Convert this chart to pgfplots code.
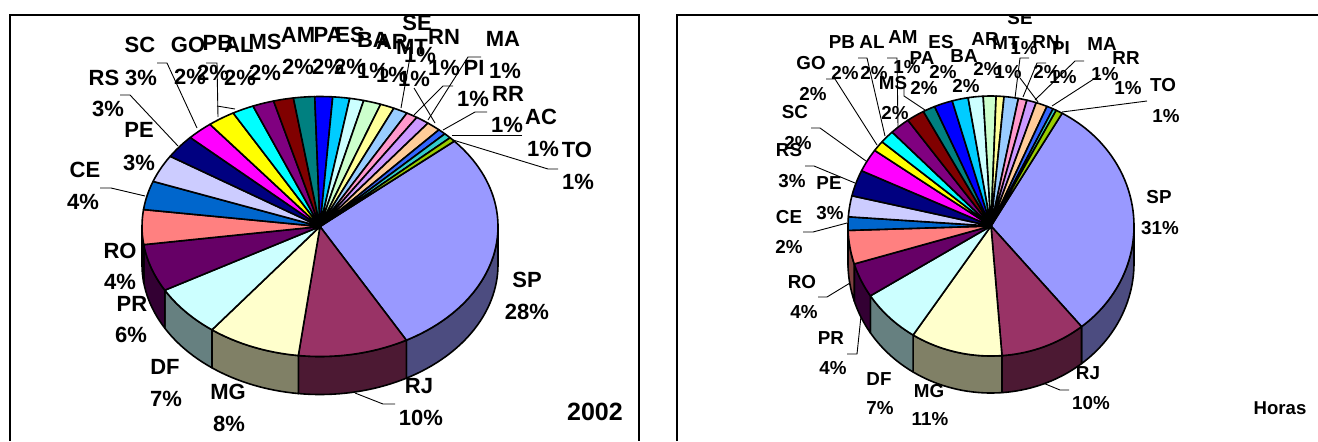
\documentclass[border=0pt]{standalone}
\usepackage{fontspec}
\setmainfont{Liberation Sans}
\usepackage{pgfplots}
\pgfplotsset{compat=1.18}

% Excel palette, one colour per state
\definecolor{cSP}{HTML}{9999FF}\definecolor{cRJ}{HTML}{993366}\definecolor{cMG}{HTML}{FFFFCC}
\definecolor{cDF}{HTML}{CCFFFF}\definecolor{cPR}{HTML}{660066}\definecolor{cRO}{HTML}{FF8080}
\definecolor{cCE}{HTML}{0066CC}\definecolor{cPE}{HTML}{CCCCFF}\definecolor{cRS}{HTML}{000080}
\definecolor{cSC}{HTML}{FF00FF}\definecolor{cGO}{HTML}{FFFF00}\definecolor{cPB}{HTML}{00FFFF}
\definecolor{cAL}{HTML}{800080}\definecolor{cMS}{HTML}{800000}\definecolor{cAM}{HTML}{008080}
\definecolor{cPA}{HTML}{0000FF}\definecolor{cES}{HTML}{00CCFF}\definecolor{cBA}{HTML}{CCFFFF}
\definecolor{cAR}{HTML}{CCFFCC}\definecolor{cMT}{HTML}{FFFF99}\definecolor{cSE}{HTML}{99CCFF}
\definecolor{cRN}{HTML}{FF99CC}\definecolor{cPI}{HTML}{CC99FF}\definecolor{cMA}{HTML}{FFCC99}
\definecolor{cRR}{HTML}{3366FF}\definecolor{cAC}{HTML}{33CCCC}\definecolor{cTO}{HTML}{99CC00}

% slice shares (percent), clockwise from the start angle
\def\sharesA{cSP/28.33,cRJ/10.00,cMG/8.44,cDF/6.47,cPR/5.92,cRO/4.31,cCE/3.56,cPE/3.44,cRS/2.92,cSC/2.39,cGO/2.50,cPB/1.97,cAL/1.94,cMS/1.81,cAM/1.92,cPA/1.61,cES/1.53,cBA/1.28,cAR/1.58,cMT/1.28,cSE/1.31,cRN/1.03,cPI/1.22,cMA/1.28,cRR/0.72,cAC/0.67,cTO/0.56}
\def\sharesB{cSP/30.81,cRJ/9.69,cMG/10.39,cDF/6.81,cPR/4.31,cRO/4.17,cCE/1.67,cPE/2.61,cRS/3.25,cSC/2.89,cGO/1.33,cPB/1.64,cAL/2.28,cMS/2.03,cAM/1.39,cPA/2.08,cES/1.81,cBA/1.69,cAR/1.44,cMT/0.89,cSE/1.61,cRN/0.97,cPI/1.08,cMA/1.28,cRR/0.75,cAC/0.39,cTO/0.75}

% append arc points from angle #1 to #2 at vertical offset #3
\newcommand\arcpts[3]{%
  \pgfmathtruncatemacro\nn{max(1,ceil(abs(#1-(#2))/2))}%
  \foreach \i in {0,...,\nn}{%
    \pgfmathsetmacro\tt{#1+(#2-(#1))*\i/\nn}%
    \pgfmathsetmacro\px{\cx+\rx*cos(\tt)}%
    \pgfmathsetmacro\py{\cy-\ry*sin(\tt)+#3}%
    \xdef\coords{\coords (\px,\py)}%
  }}

% #1 cx, #2 cy, #3 rx, #4 ry, #5 depth, #6 start angle, #7 shares
\newcommand\solidpie[7]{%
  \def\cx{#1}\def\cy{#2}\def\rx{#3}\def\ry{#4}%
  \xdef\cur{#6}%
  \foreach \c/\p in #7{%
    \pgfmathsetmacro\nxt{\cur-\p*3.6}%
    \pgfmathsetmacro\aa{min(\cur,0)}%
    \pgfmathsetmacro\bb{max(\nxt,-180)}%
    \pgfmathparse{\aa>\bb?1:0}%
    \ifnum\pgfmathresult=1
      \gdef\coords{}%
      \arcpts{\aa}{\bb}{0}%
      \arcpts{\bb}{\aa}{#5}%
      \edef\temp{\noexpand\addplot[draw=black,line width=0.8pt,line join=round,fill=\c!50!black] coordinates {\coords} -- cycle;}%
      \temp
    \fi
    \xdef\cur{\nxt}%
  }%
  \xdef\cur{#6}%
  \foreach \c/\p in #7{%
    \pgfmathsetmacro\nxt{\cur-\p*3.6}%
    \xdef\coords{(\cx,\cy)}%
    \arcpts{\cur}{\nxt}{0}%
    \edef\temp{\noexpand\addplot[draw=black,line width=0.8pt,line join=round,fill=\c] coordinates {\coords} -- cycle;}%
    \temp
    \xdef\cur{\nxt}%
  }}

\newcommand\labA[6]{\node[font=\fontsize{11}{13}\selectfont\bfseries,inner sep=0pt] at (#1,#2) {#3};
  \node[font=\fontsize{11}{13}\selectfont\bfseries,inner sep=0pt] at (#4,#5) {#6\%};}
\newcommand\labB[6]{\node[font=\fontsize{9.4}{11}\selectfont\bfseries,inner sep=0pt] at (#1,#2) {#3};
  \node[font=\fontsize{9.4}{11}\selectfont\bfseries,inner sep=0pt] at (#4,#5) {#6\%};}

\begin{document}
\begin{tikzpicture}
\useasboundingbox (0,0) rectangle (659pt,220.5pt);
\begin{axis}[hide axis, scale only axis, width=659pt, height=220.5pt,
  xmin=0, xmax=1318, ymin=0, ymax=441, y dir=reverse, clip=false,
  leader/.style={black, line width=0.45pt}]

% leader lines, 2002
\addplot[leader] coordinates {(100,188) (111,188) (145,196)};
\addplot[leader] coordinates {(120,95) (130,95) (178,146)};
\addplot[leader] coordinates {(157,63) (167,63) (197,128)};
\addplot[leader] coordinates {(206,63) (217,63) (218,117)};
\addplot[leader] coordinates {(217,106) (235,109)};
\addplot[leader] coordinates {(410,57) (401,108)};
\addplot[leader] coordinates {(414,88) (435,123)};
\addplot[leader] coordinates {(453,86) (443,86) (414,115)};
\addplot[leader] coordinates {(481,57) (468,57) (428,120)};
\addplot[leader] coordinates {(487,112) (475,112) (443,130)};
\addplot[leader] coordinates {(522,135) (452,135)};
\addplot[leader] coordinates {(558,169) (548,169) (453,140)};
\addplot[leader] coordinates {(395,404) (383,404) (355,393)};

% leader lines, Horas
\addplot[leader] coordinates {(803,232) (813,232) (847,223)};
\addplot[leader] coordinates {(818,297) (827,297) (850,283)};
\addplot[leader] coordinates {(847,354) (857,354) (861,316)};
\addplot[leader] coordinates {(826,79) (835,79) (877,145)};
\addplot[leader] coordinates {(858,58) (867,58) (885,136)};
\addplot[leader] coordinates {(887,58) (897,58) (898,127)};
\addplot[leader] coordinates {(904,88) (904,96) (925,110)};
\addplot[leader] coordinates {(811,128) (820,128) (866,161)};
\addplot[leader] coordinates {(805,166) (814,166) (855,183)};
\addplot[leader] coordinates {(1029,58) (1020,58) (1015,98)};
\addplot[leader] coordinates {(1020,78) (1038,102)};
\addplot[leader] coordinates {(1046,63) (1037,63) (1023,97)};
\addplot[leader] coordinates {(1084,61) (1075,61) (1035,100)};
\addplot[leader] coordinates {(1100,75) (1052,106)};
\addplot[leader] coordinates {(1147,101) (1062,112)};
\addplot[leader] coordinates {(1069,390) (1060,390) (1043,383)};

\solidpie{320}{226.5}{178}{130}{38}{41}{\sharesA}
\solidpie{991}{226}{143}{130}{37}{60.2}{\sharesB}

% labels, 2002
\labA{527}{280}{SP}{527}{312}{28}
\labA{419}{386}{RJ}{421}{418}{10}
\labA{228}{392}{MG}{229}{424}{8}
\labA{165}{367}{DF}{166}{399}{7}
\labA{132}{304}{PR}{131}{335}{6}
\labA{120}{251}{RO}{120}{282}{4}
\labA{85}{170}{CE}{83}{202}{4}
\labA{139}{130}{PE}{139}{163}{3}
\labA{104}{78}{RS}{108}{109}{3}
\labA{140}{45}{SC}{141}{78}{3}
\labA{188}{45}{GO}{190}{77}{2}
\labA{218}{43}{PB}{213}{73}{2}
\labA{239}{45}{AL}{240}{78}{2}
\labA{265}{42}{MS}{265}{73}{2}
\labA{298}{35}{AM}{298}{67}{2}
\labA{328}{35}{PA}{328}{67}{2}
\labA{350}{35}{ES}{350}{67}{2}
\labA{373}{40}{BA}{373}{71}{1}
\labA{392}{42}{AR}{392}{75}{1}
\labA{412}{47}{MT}{414}{79}{1}
\labA{417}{23}{SE}{420}{55}{1}
\labA{444}{37}{RN}{444}{68}{1}
\labA{474}{68}{PI}{473}{99}{1}
\labA{503}{39}{MA}{505}{71}{1}
\labA{508}{94}{RR}{507}{125}{1}
\labA{541}{117}{AC}{543}{149}{1}
\labA{577}{150}{TO}{578}{182}{1}
\node[font=\fontsize{12.5}{15}\selectfont\bfseries,inner sep=0pt] at (595,412) {2002};

% labels, Horas
\labB{1159}{197}{SP}{1160}{228}{31}
\labB{1088}{373}{RJ}{1091}{403}{10}
\labB{929}{391}{MG}{930}{419}{11}
\labB{879}{379}{DF}{880}{408}{7}
\labB{831}{338}{PR}{833}{368}{4}
\labB{802}{282}{RO}{804}{312}{4}
\labB{789}{217}{CE}{789}{247}{2}
\labB{829}{183}{PE}{830}{213}{3}
\labB{789}{150}{RS}{792}{181}{3}
\labB{795}{112}{SC}{798}{143}{2}
\labB{811}{63}{GO}{813}{94}{2}
\labB{842}{42}{PB}{845}{73}{2}
\labB{872}{42}{AL}{874}{73}{2}
\labB{893}{83}{MS}{895}{113}{2}
\labB{903}{37}{AM}{907}{67}{1}
\labB{922}{58}{PA}{924}{88}{2}
\labB{941}{42}{ES}{943}{72}{2}
\labB{964}{56}{BA}{966}{86}{2}
\labB{985}{39}{AR}{987}{69}{2}
\labB{1006}{43}{MT}{1008}{72}{1}
\labB{1020}{18}{SE}{1024}{48}{1}
\labB{1046}{42}{RN}{1047}{72}{2}
\labB{1061}{48}{PI}{1063}{77}{1}
\labB{1102}{44}{MA}{1105}{74}{1}
\labB{1126}{58}{RR}{1128}{88}{1}
\labB{1163}{85}{TO}{1166}{116}{1}
\node[font=\fontsize{9.3}{11}\selectfont\bfseries,inner sep=0pt] at (1280,408) {Horas};

% panel frames, the right one cuts off the top of SE
\addplot[fill=white,draw=none] coordinates {(677,0) (1318,0) (1318,15) (677,15)} -- cycle;
\addplot[black,line width=0.75pt] coordinates {(10,441) (10,15) (639,15) (639,441)};
\addplot[black,line width=0.75pt] coordinates {(677,441) (677,15) (1318,15)};
\end{axis}
\end{tikzpicture}
\end{document}
